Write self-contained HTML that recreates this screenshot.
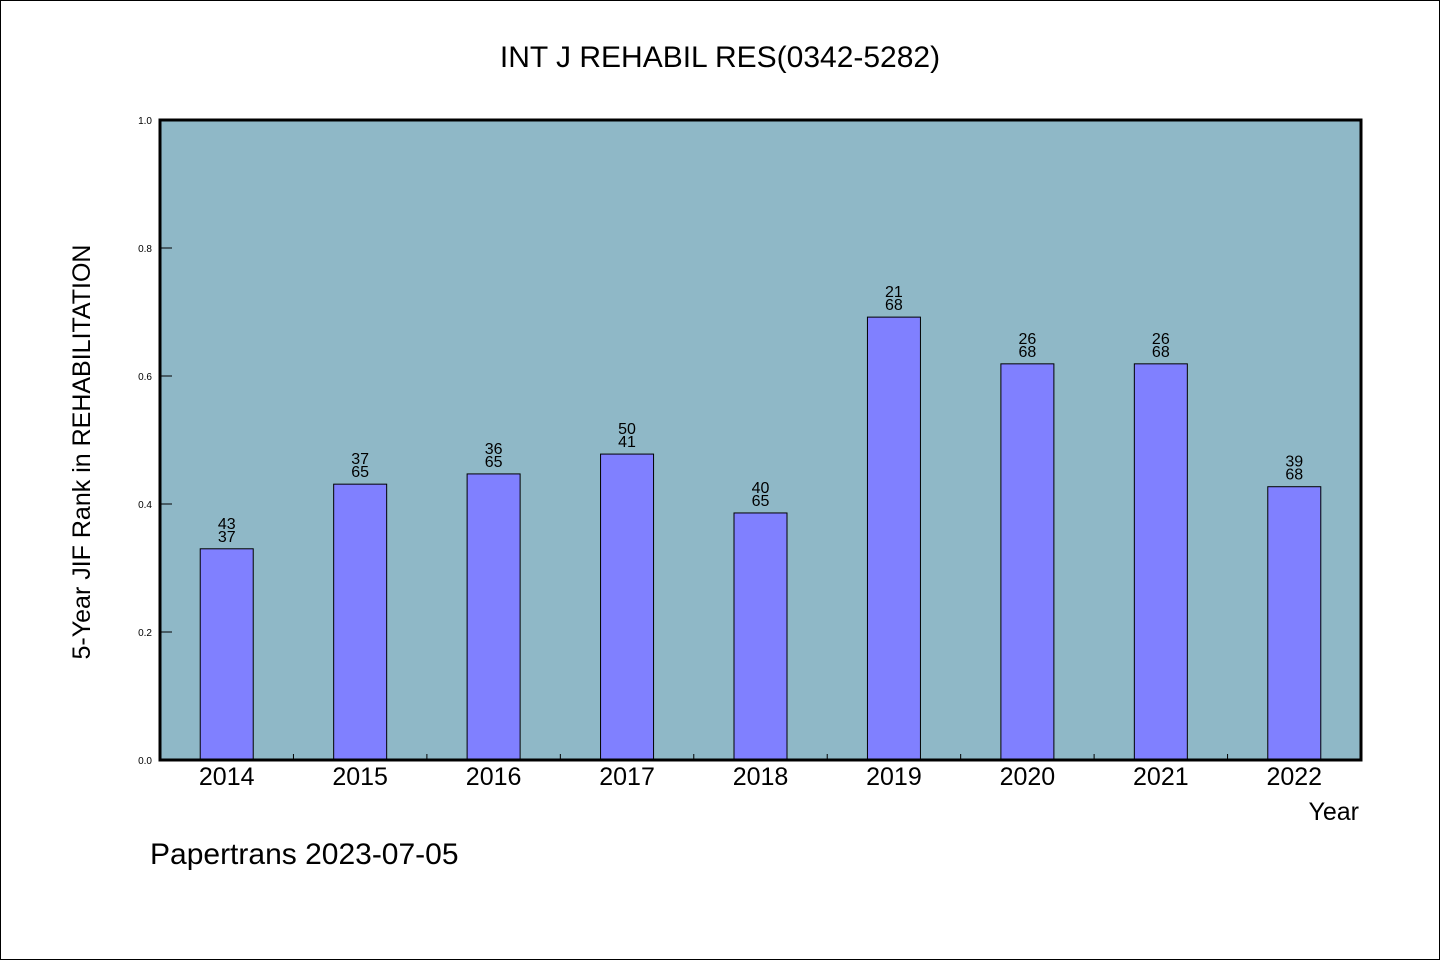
<!DOCTYPE html>
<html><head><meta charset="utf-8"><style>
body{margin:0;background:#fff}
svg text{font-family:"WenQuanYi Zen Hei","Liberation Sans",sans-serif}
</style></head><body>
<svg width="1440" height="960">
<rect x="0.5" y="0.5" width="1439" height="959" fill="#fff" stroke="#000"/>
<text x="720" y="67" font-size="30" text-anchor="middle">INT J REHABIL RES(0342-5282)</text>
<rect x="160" y="120" width="1201" height="640" fill="#8fb8c7"/>
<g id="bars"></g>
<rect x="160" y="120" width="1201" height="640" fill="none" stroke="#000" stroke-width="3"/>
<text transform="translate(90,452) rotate(-90)" font-size="25" text-anchor="middle">5-Year JIF Rank in REHABILITATION</text>
<text x="1359" y="820" font-size="25" text-anchor="end">Year</text>
<text x="150" y="864" font-size="30">Papertrans 2023-07-05</text>
</svg>
<script>
const years=["2014","2015","2016","2017","2018","2019","2020","2021","2022"];
const values=[0.330,0.431,0.447,0.478,0.386,0.692,0.619,0.619,0.427];
const topLabels=["43","37","36","50","40","21","26","26","39"];
const botLabels=["37","65","65","41","65","68","68","68","68"];
const yTicks=[0,0.2,0.4,0.6,0.8,1.0];
const NS="http://www.w3.org/2000/svg";
const X0=160,W=1201,Y0=760,H=640;
const band=W/years.length;
const xc=i=>X0+band*(i+0.5);
const y=v=>Y0-v*H;
const g=document.getElementById('bars');
function mk(t,a){const e=document.createElementNS(NS,t);for(const k in a)e.setAttribute(k,a[k]);g.appendChild(e);return e;}
yTicks.forEach(t=>{
  const l=mk('line',{x1:X0,x2:X0+12,y1:y(t),y2:y(t),stroke:'#000','stroke-width':1});
  
  
  const tx=mk('text',{x:152,y:y(t)+4,'font-size':10,'text-anchor':'end'});
  tx.textContent=t.toFixed(1);
  
  
});
for(let i=1;i<years.length;i++){
  const l=mk('line',{x1:X0+band*i,x2:X0+band*i,y1:Y0,y2:Y0-6,stroke:'#000','stroke-width':1});
  
  
}
years.forEach((yr,i)=>{
  const bw=53;
  const r=mk('rect',{x:xc(i)-bw/2,y:y(values[i]),width:bw,height:values[i]*H,fill:'#8080ff',stroke:'#000','stroke-width':1});
  
  
  const t1=mk('text',{x:xc(i),y:y(values[i])-20,'font-size':16,'text-anchor':'middle'});
  t1.textContent=topLabels[i];
  
  
  const t2=mk('text',{x:xc(i),y:y(values[i])-7,'font-size':16,'text-anchor':'middle'});
  t2.textContent=botLabels[i];
  
  
  const xl=mk('text',{x:xc(i),y:785,'font-size':25,'text-anchor':'middle'});
  xl.textContent=yr;
  
  
});
</script>
</body></html>
